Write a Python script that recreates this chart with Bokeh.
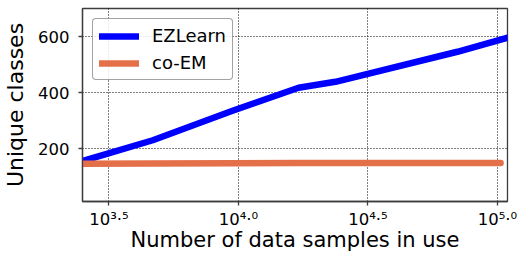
from bokeh.plotting import figure
from bokeh.models import FixedTicker, Legend, LegendItem, Range1d
from bokeh.embed import file_html
from bokeh.resources import INLINE

# data
ez_samples = [2500, 4670, 9490, 17060, 23680, 70000, 109500]
ez_classes = [157, 231, 336, 418, 439, 546, 596]
coem_samples = [2500, 4670, 9490, 17060, 23680, 70000, 102800]
coem_classes = [147, 148, 149, 150, 150, 150, 150]

x_tick_vals = [10 ** 3.5, 10 ** 4.0, 10 ** 4.5, 10 ** 5.0]
x_tick_labels = ["10\u00b3\u00b7\u2075", "10\u2074\u00b7\u2070", "10\u2074\u00b7\u2075",
                 "10\u2075\u00b7\u2070"]
y_ticks = [200, 400, 600]

FONT = "DejaVu Sans"
SPINE = "#3d3d3d"

p = figure(width=519, height=255, x_axis_type="log", title=None,
           x_range=Range1d(2500, 109300), y_range=Range1d(13, 700),
           output_backend="svg", toolbar_location=None,
           min_border_left=82, min_border_right=12, min_border_top=8, min_border_bottom=54)
p.background_fill_color = "white"
p.border_fill_color = "white"
p.outline_line_color = SPINE
p.outline_line_width = 1.3

r1 = p.line(ez_samples, ez_classes, line_color="#0000ff", line_width=6.5, line_cap="round", line_join="round")
r2 = p.line(coem_samples, coem_classes, line_color="#e4704a", line_width=6.5, line_cap="round", line_join="round")

p.xaxis.ticker = FixedTicker(ticks=x_tick_vals, minor_ticks=[])
p.yaxis.ticker = FixedTicker(ticks=y_ticks, minor_ticks=[])
p.xaxis.major_label_overrides = dict(zip(x_tick_vals, x_tick_labels))

for ax in (p.xaxis[0], p.yaxis[0]):
    ax.axis_line_color = SPINE
    ax.axis_line_width = 1.3
    ax.major_tick_line_color = SPINE
    ax.major_tick_line_width = 1.3
    ax.major_tick_out = 4
    ax.major_tick_in = 0
    ax.minor_tick_out = 0
    ax.minor_tick_in = 0
    ax.major_label_text_font = FONT
    ax.major_label_text_font_size = "16.5px"
    ax.major_label_text_color = "black"
    ax.axis_label_text_font = FONT
    ax.axis_label_text_font_style = "normal"
    ax.axis_label_text_color = "black"

p.yaxis.axis_label = "Unique classes"
p.yaxis.axis_label_text_font_size = "22px"
p.yaxis.major_label_standoff = 9
p.yaxis.axis_label_standoff = 7
p.xaxis.axis_label = "Number of data samples in use"
p.xaxis.axis_label_text_font_size = "21px"
p.xaxis.major_label_standoff = 4
p.xaxis.axis_label_standoff = -4

for g in (p.xgrid[0], p.ygrid[0]):
    g.grid_line_color = "black"
    g.grid_line_width = 1
    g.grid_line_dash = "1 2"

legend = Legend(items=[LegendItem(label="EZLearn", renderers=[r1]),
                       LegendItem(label="co-EM", renderers=[r2])],
                location="top_left")
legend.margin = 10
legend.padding = 6
legend.spacing = 6
legend.glyph_width = 40
legend.glyph_height = 20
legend.label_height = 20
legend.label_standoff = 13
legend.label_text_font = FONT
legend.label_text_font_size = "18px"
legend.label_text_color = "black"
legend.border_line_color = "#444444"
legend.border_line_width = 1.2
legend.border_radius = 4
legend.background_fill_alpha = 0.85
p.add_layout(legend)

open("out.html", "w").write(file_html(p, INLINE))
